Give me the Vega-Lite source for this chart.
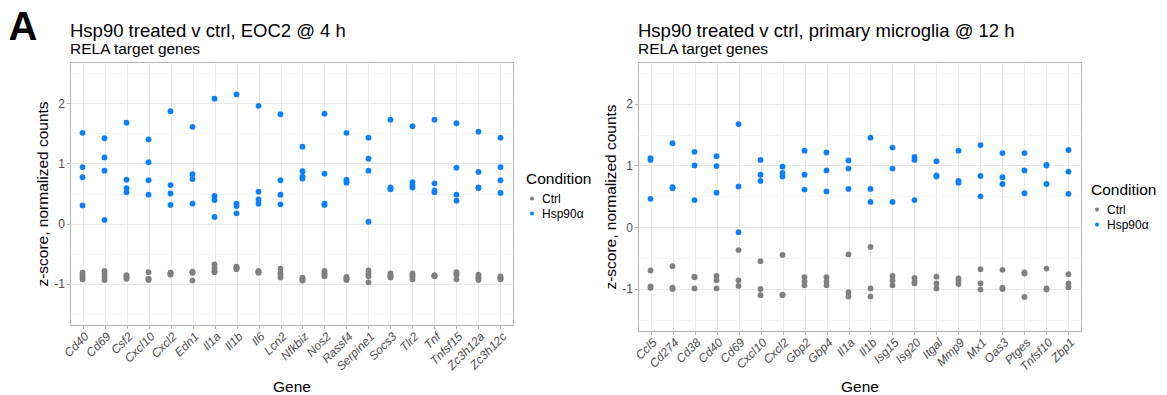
{
  "$schema": "https://vega.github.io/schema/vega-lite/v6.json",
  "background": "white",
  "padding": {"left": 8, "top": 8, "right": 4, "bottom": 2},
  "title": {"text": "A", "orient": "left", "anchor": "start", "angle": 0, "align": "right", "baseline": "top", "fontSize": 40, "fontWeight": "bold", "font": "Liberation Sans", "color": "black", "offset": -31, "dy": -54},
  "config": {
    "font": "Liberation Sans",
    "view": {"stroke": "#b3b3b3", "strokeWidth": 1},
    "title": {"anchor": "start", "frame": "group", "fontSize": 18.5, "fontWeight": "normal", "color": "black", "subtitleFontSize": 15.5, "subtitleColor": "black", "subtitlePadding": 1, "offset": 5},
    "axis": {"domain": false, "grid": true, "gridColor": "#ebebeb", "tickColor": "#b3b3b3", "tickSize": 3.5, "labelColor": "#4d4d4d", "labelFontSize": 12, "titleFontSize": 15.5, "titleFontWeight": "normal", "titleColor": "black"},
    "axisX": {"labelAngle": -45, "labelAlign": "right", "labelBaseline": "top", "labelFontStyle": "italic", "labelPadding": 2, "titlePadding": 7},
    "axisY": {"labelPadding": 2, "titlePadding": 3},
    "legend": {"titleFontSize": 15.5, "titleFontWeight": "normal", "titleColor": "black", "labelFontSize": 12, "labelColor": "black", "symbolSize": 16, "symbolType": "circle", "rowPadding": 3, "titlePadding": 5}
  },
  "data": {"values": [
    {"panel":"L","gene":"Cd40","condition":"Hsp90α","z":1.51},{"panel":"L","gene":"Cd40","condition":"Hsp90α","z":0.94},{"panel":"L","gene":"Cd40","condition":"Hsp90α","z":0.77},{"panel":"L","gene":"Cd40","condition":"Hsp90α","z":0.30},
    {"panel":"L","gene":"Cd69","condition":"Hsp90α","z":1.42},{"panel":"L","gene":"Cd69","condition":"Hsp90α","z":1.10},{"panel":"L","gene":"Cd69","condition":"Hsp90α","z":0.88},{"panel":"L","gene":"Cd69","condition":"Hsp90α","z":0.06},
    {"panel":"L","gene":"Csf2","condition":"Hsp90α","z":1.68},{"panel":"L","gene":"Csf2","condition":"Hsp90α","z":0.73},{"panel":"L","gene":"Csf2","condition":"Hsp90α","z":0.59},{"panel":"L","gene":"Csf2","condition":"Hsp90α","z":0.52},
    {"panel":"L","gene":"Cxcl10","condition":"Hsp90α","z":1.40},{"panel":"L","gene":"Cxcl10","condition":"Hsp90α","z":1.02},{"panel":"L","gene":"Cxcl10","condition":"Hsp90α","z":0.72},{"panel":"L","gene":"Cxcl10","condition":"Hsp90α","z":0.48},
    {"panel":"L","gene":"Cxcl2","condition":"Hsp90α","z":1.87},{"panel":"L","gene":"Cxcl2","condition":"Hsp90α","z":0.64},{"panel":"L","gene":"Cxcl2","condition":"Hsp90α","z":0.50},{"panel":"L","gene":"Cxcl2","condition":"Hsp90α","z":0.31},
    {"panel":"L","gene":"Edn1","condition":"Hsp90α","z":1.61},{"panel":"L","gene":"Edn1","condition":"Hsp90α","z":0.82},{"panel":"L","gene":"Edn1","condition":"Hsp90α","z":0.74},{"panel":"L","gene":"Edn1","condition":"Hsp90α","z":0.33},
    {"panel":"L","gene":"Il1a","condition":"Hsp90α","z":2.08},{"panel":"L","gene":"Il1a","condition":"Hsp90α","z":0.46},{"panel":"L","gene":"Il1a","condition":"Hsp90α","z":0.39},{"panel":"L","gene":"Il1a","condition":"Hsp90α","z":0.11},
    {"panel":"L","gene":"Il1b","condition":"Hsp90α","z":2.15},{"panel":"L","gene":"Il1b","condition":"Hsp90α","z":0.33},{"panel":"L","gene":"Il1b","condition":"Hsp90α","z":0.29},{"panel":"L","gene":"Il1b","condition":"Hsp90α","z":0.17},
    {"panel":"L","gene":"Il6","condition":"Hsp90α","z":1.96},{"panel":"L","gene":"Il6","condition":"Hsp90α","z":0.53},{"panel":"L","gene":"Il6","condition":"Hsp90α","z":0.40},{"panel":"L","gene":"Il6","condition":"Hsp90α","z":0.33},
    {"panel":"L","gene":"Lcn2","condition":"Hsp90α","z":1.82},{"panel":"L","gene":"Lcn2","condition":"Hsp90α","z":0.72},{"panel":"L","gene":"Lcn2","condition":"Hsp90α","z":0.48},{"panel":"L","gene":"Lcn2","condition":"Hsp90α","z":0.32},
    {"panel":"L","gene":"Nfkbiz","condition":"Hsp90α","z":1.28},{"panel":"L","gene":"Nfkbiz","condition":"Hsp90α","z":0.87},{"panel":"L","gene":"Nfkbiz","condition":"Hsp90α","z":0.78},{"panel":"L","gene":"Nfkbiz","condition":"Hsp90α","z":0.75},
    {"panel":"L","gene":"Nos2","condition":"Hsp90α","z":1.83},{"panel":"L","gene":"Nos2","condition":"Hsp90α","z":0.83},{"panel":"L","gene":"Nos2","condition":"Hsp90α","z":0.33},{"panel":"L","gene":"Nos2","condition":"Hsp90α","z":0.31},
    {"panel":"L","gene":"Rassf4","condition":"Hsp90α","z":1.51},{"panel":"L","gene":"Rassf4","condition":"Hsp90α","z":0.73},{"panel":"L","gene":"Rassf4","condition":"Hsp90α","z":0.70},{"panel":"L","gene":"Rassf4","condition":"Hsp90α","z":0.68},
    {"panel":"L","gene":"Serpine1","condition":"Hsp90α","z":1.43},{"panel":"L","gene":"Serpine1","condition":"Hsp90α","z":1.08},{"panel":"L","gene":"Serpine1","condition":"Hsp90α","z":0.88},{"panel":"L","gene":"Serpine1","condition":"Hsp90α","z":0.03},
    {"panel":"L","gene":"Socs3","condition":"Hsp90α","z":1.73},{"panel":"L","gene":"Socs3","condition":"Hsp90α","z":0.60},{"panel":"L","gene":"Socs3","condition":"Hsp90α","z":0.58},{"panel":"L","gene":"Socs3","condition":"Hsp90α","z":0.57},
    {"panel":"L","gene":"Tlr2","condition":"Hsp90α","z":1.62},{"panel":"L","gene":"Tlr2","condition":"Hsp90α","z":0.69},{"panel":"L","gene":"Tlr2","condition":"Hsp90α","z":0.64},{"panel":"L","gene":"Tlr2","condition":"Hsp90α","z":0.60},
    {"panel":"L","gene":"Tnf","condition":"Hsp90α","z":1.73},{"panel":"L","gene":"Tnf","condition":"Hsp90α","z":0.67},{"panel":"L","gene":"Tnf","condition":"Hsp90α","z":0.55},{"panel":"L","gene":"Tnf","condition":"Hsp90α","z":0.52},
    {"panel":"L","gene":"Tnfsf15","condition":"Hsp90α","z":1.67},{"panel":"L","gene":"Tnfsf15","condition":"Hsp90α","z":0.93},{"panel":"L","gene":"Tnfsf15","condition":"Hsp90α","z":0.48},{"panel":"L","gene":"Tnfsf15","condition":"Hsp90α","z":0.38},
    {"panel":"L","gene":"Zc3h12a","condition":"Hsp90α","z":1.53},{"panel":"L","gene":"Zc3h12a","condition":"Hsp90α","z":0.86},{"panel":"L","gene":"Zc3h12a","condition":"Hsp90α","z":0.60},{"panel":"L","gene":"Zc3h12a","condition":"Hsp90α","z":0.59},
    {"panel":"L","gene":"Zc3h12c","condition":"Hsp90α","z":1.43},{"panel":"L","gene":"Zc3h12c","condition":"Hsp90α","z":0.94},{"panel":"L","gene":"Zc3h12c","condition":"Hsp90α","z":0.72},{"panel":"L","gene":"Zc3h12c","condition":"Hsp90α","z":0.51},
    {"panel":"L","gene":"Cd40","condition":"Ctrl","z":-0.82},{"panel":"L","gene":"Cd40","condition":"Ctrl","z":-0.86},{"panel":"L","gene":"Cd40","condition":"Ctrl","z":-0.90},{"panel":"L","gene":"Cd40","condition":"Ctrl","z":-0.93},
    {"panel":"L","gene":"Cd69","condition":"Ctrl","z":-0.79},{"panel":"L","gene":"Cd69","condition":"Ctrl","z":-0.84},{"panel":"L","gene":"Cd69","condition":"Ctrl","z":-0.89},{"panel":"L","gene":"Cd69","condition":"Ctrl","z":-0.94},
    {"panel":"L","gene":"Csf2","condition":"Ctrl","z":-0.86},{"panel":"L","gene":"Csf2","condition":"Ctrl","z":-0.88},{"panel":"L","gene":"Csf2","condition":"Ctrl","z":-0.90},{"panel":"L","gene":"Csf2","condition":"Ctrl","z":-0.92},
    {"panel":"L","gene":"Cxcl10","condition":"Ctrl","z":-0.81},{"panel":"L","gene":"Cxcl10","condition":"Ctrl","z":-0.92},{"panel":"L","gene":"Cxcl10","condition":"Ctrl","z":-0.93},{"panel":"L","gene":"Cxcl10","condition":"Ctrl","z":-0.94},
    {"panel":"L","gene":"Cxcl2","condition":"Ctrl","z":-0.82},{"panel":"L","gene":"Cxcl2","condition":"Ctrl","z":-0.83},{"panel":"L","gene":"Cxcl2","condition":"Ctrl","z":-0.84},{"panel":"L","gene":"Cxcl2","condition":"Ctrl","z":-0.85},
    {"panel":"L","gene":"Edn1","condition":"Ctrl","z":-0.80},{"panel":"L","gene":"Edn1","condition":"Ctrl","z":-0.81},{"panel":"L","gene":"Edn1","condition":"Ctrl","z":-0.82},{"panel":"L","gene":"Edn1","condition":"Ctrl","z":-0.95},
    {"panel":"L","gene":"Il1a","condition":"Ctrl","z":-0.68},{"panel":"L","gene":"Il1a","condition":"Ctrl","z":-0.74},{"panel":"L","gene":"Il1a","condition":"Ctrl","z":-0.79},{"panel":"L","gene":"Il1a","condition":"Ctrl","z":-0.81},
    {"panel":"L","gene":"Il1b","condition":"Ctrl","z":-0.72},{"panel":"L","gene":"Il1b","condition":"Ctrl","z":-0.73},{"panel":"L","gene":"Il1b","condition":"Ctrl","z":-0.74},{"panel":"L","gene":"Il1b","condition":"Ctrl","z":-0.76},
    {"panel":"L","gene":"Il6","condition":"Ctrl","z":-0.79},{"panel":"L","gene":"Il6","condition":"Ctrl","z":-0.80},{"panel":"L","gene":"Il6","condition":"Ctrl","z":-0.81},{"panel":"L","gene":"Il6","condition":"Ctrl","z":-0.82},
    {"panel":"L","gene":"Lcn2","condition":"Ctrl","z":-0.75},{"panel":"L","gene":"Lcn2","condition":"Ctrl","z":-0.82},{"panel":"L","gene":"Lcn2","condition":"Ctrl","z":-0.85},{"panel":"L","gene":"Lcn2","condition":"Ctrl","z":-0.90},
    {"panel":"L","gene":"Nfkbiz","condition":"Ctrl","z":-0.90},{"panel":"L","gene":"Nfkbiz","condition":"Ctrl","z":-0.92},{"panel":"L","gene":"Nfkbiz","condition":"Ctrl","z":-0.94},{"panel":"L","gene":"Nfkbiz","condition":"Ctrl","z":-0.95},
    {"panel":"L","gene":"Nos2","condition":"Ctrl","z":-0.79},{"panel":"L","gene":"Nos2","condition":"Ctrl","z":-0.83},{"panel":"L","gene":"Nos2","condition":"Ctrl","z":-0.85},{"panel":"L","gene":"Nos2","condition":"Ctrl","z":-0.88},
    {"panel":"L","gene":"Rassf4","condition":"Ctrl","z":-0.89},{"panel":"L","gene":"Rassf4","condition":"Ctrl","z":-0.91},{"panel":"L","gene":"Rassf4","condition":"Ctrl","z":-0.92},{"panel":"L","gene":"Rassf4","condition":"Ctrl","z":-0.94},
    {"panel":"L","gene":"Serpine1","condition":"Ctrl","z":-0.78},{"panel":"L","gene":"Serpine1","condition":"Ctrl","z":-0.83},{"panel":"L","gene":"Serpine1","condition":"Ctrl","z":-0.88},{"panel":"L","gene":"Serpine1","condition":"Ctrl","z":-0.98},
    {"panel":"L","gene":"Socs3","condition":"Ctrl","z":-0.83},{"panel":"L","gene":"Socs3","condition":"Ctrl","z":-0.86},{"panel":"L","gene":"Socs3","condition":"Ctrl","z":-0.88},{"panel":"L","gene":"Socs3","condition":"Ctrl","z":-0.90},
    {"panel":"L","gene":"Tlr2","condition":"Ctrl","z":-0.83},{"panel":"L","gene":"Tlr2","condition":"Ctrl","z":-0.86},{"panel":"L","gene":"Tlr2","condition":"Ctrl","z":-0.89},{"panel":"L","gene":"Tlr2","condition":"Ctrl","z":-0.93},
    {"panel":"L","gene":"Tnf","condition":"Ctrl","z":-0.86},{"panel":"L","gene":"Tnf","condition":"Ctrl","z":-0.87},{"panel":"L","gene":"Tnf","condition":"Ctrl","z":-0.87},{"panel":"L","gene":"Tnf","condition":"Ctrl","z":-0.88},
    {"panel":"L","gene":"Tnfsf15","condition":"Ctrl","z":-0.81},{"panel":"L","gene":"Tnfsf15","condition":"Ctrl","z":-0.84},{"panel":"L","gene":"Tnfsf15","condition":"Ctrl","z":-0.86},{"panel":"L","gene":"Tnfsf15","condition":"Ctrl","z":-0.93},
    {"panel":"L","gene":"Zc3h12a","condition":"Ctrl","z":-0.85},{"panel":"L","gene":"Zc3h12a","condition":"Ctrl","z":-0.89},{"panel":"L","gene":"Zc3h12a","condition":"Ctrl","z":-0.91},{"panel":"L","gene":"Zc3h12a","condition":"Ctrl","z":-0.94},
    {"panel":"L","gene":"Zc3h12c","condition":"Ctrl","z":-0.88},{"panel":"L","gene":"Zc3h12c","condition":"Ctrl","z":-0.90},{"panel":"L","gene":"Zc3h12c","condition":"Ctrl","z":-0.91},{"panel":"L","gene":"Zc3h12c","condition":"Ctrl","z":-0.93},
    {"panel":"R","gene":"Ccl5","condition":"Hsp90α","z":1.12},{"panel":"R","gene":"Ccl5","condition":"Hsp90α","z":1.09},{"panel":"R","gene":"Ccl5","condition":"Hsp90α","z":0.46},
    {"panel":"R","gene":"Cd274","condition":"Hsp90α","z":1.36},{"panel":"R","gene":"Cd274","condition":"Hsp90α","z":0.65},{"panel":"R","gene":"Cd274","condition":"Hsp90α","z":0.63},
    {"panel":"R","gene":"Cd38","condition":"Hsp90α","z":1.22},{"panel":"R","gene":"Cd38","condition":"Hsp90α","z":1.00},{"panel":"R","gene":"Cd38","condition":"Hsp90α","z":0.44},
    {"panel":"R","gene":"Cd40","condition":"Hsp90α","z":1.15},{"panel":"R","gene":"Cd40","condition":"Hsp90α","z":0.99},{"panel":"R","gene":"Cd40","condition":"Hsp90α","z":0.56},
    {"panel":"R","gene":"Cd69","condition":"Hsp90α","z":1.67},{"panel":"R","gene":"Cd69","condition":"Hsp90α","z":0.66},{"panel":"R","gene":"Cd69","condition":"Hsp90α","z":-0.08},
    {"panel":"R","gene":"Cxcl10","condition":"Hsp90α","z":1.09},{"panel":"R","gene":"Cxcl10","condition":"Hsp90α","z":0.85},{"panel":"R","gene":"Cxcl10","condition":"Hsp90α","z":0.75},
    {"panel":"R","gene":"Cxcl2","condition":"Hsp90α","z":0.98},{"panel":"R","gene":"Cxcl2","condition":"Hsp90α","z":0.88},{"panel":"R","gene":"Cxcl2","condition":"Hsp90α","z":0.82},
    {"panel":"R","gene":"Gbp2","condition":"Hsp90α","z":1.24},{"panel":"R","gene":"Gbp2","condition":"Hsp90α","z":0.85},{"panel":"R","gene":"Gbp2","condition":"Hsp90α","z":0.61},
    {"panel":"R","gene":"Gbp4","condition":"Hsp90α","z":1.21},{"panel":"R","gene":"Gbp4","condition":"Hsp90α","z":0.92},{"panel":"R","gene":"Gbp4","condition":"Hsp90α","z":0.58},
    {"panel":"R","gene":"Il1a","condition":"Hsp90α","z":1.08},{"panel":"R","gene":"Il1a","condition":"Hsp90α","z":0.95},{"panel":"R","gene":"Il1a","condition":"Hsp90α","z":0.62},
    {"panel":"R","gene":"Il1b","condition":"Hsp90α","z":1.45},{"panel":"R","gene":"Il1b","condition":"Hsp90α","z":0.62},{"panel":"R","gene":"Il1b","condition":"Hsp90α","z":0.41},
    {"panel":"R","gene":"Isg15","condition":"Hsp90α","z":1.29},{"panel":"R","gene":"Isg15","condition":"Hsp90α","z":0.95},{"panel":"R","gene":"Isg15","condition":"Hsp90α","z":0.41},
    {"panel":"R","gene":"Isg20","condition":"Hsp90α","z":1.14},{"panel":"R","gene":"Isg20","condition":"Hsp90α","z":1.09},{"panel":"R","gene":"Isg20","condition":"Hsp90α","z":0.44},
    {"panel":"R","gene":"Itgal","condition":"Hsp90α","z":1.07},{"panel":"R","gene":"Itgal","condition":"Hsp90α","z":0.84},{"panel":"R","gene":"Itgal","condition":"Hsp90α","z":0.82},
    {"panel":"R","gene":"Mmp9","condition":"Hsp90α","z":1.24},{"panel":"R","gene":"Mmp9","condition":"Hsp90α","z":0.75},{"panel":"R","gene":"Mmp9","condition":"Hsp90α","z":0.72},
    {"panel":"R","gene":"Mx1","condition":"Hsp90α","z":1.33},{"panel":"R","gene":"Mx1","condition":"Hsp90α","z":0.83},{"panel":"R","gene":"Mx1","condition":"Hsp90α","z":0.50},
    {"panel":"R","gene":"Oas3","condition":"Hsp90α","z":1.20},{"panel":"R","gene":"Oas3","condition":"Hsp90α","z":0.81},{"panel":"R","gene":"Oas3","condition":"Hsp90α","z":0.70},
    {"panel":"R","gene":"Ptges","condition":"Hsp90α","z":1.20},{"panel":"R","gene":"Ptges","condition":"Hsp90α","z":0.92},{"panel":"R","gene":"Ptges","condition":"Hsp90α","z":0.55},
    {"panel":"R","gene":"Tnfsf10","condition":"Hsp90α","z":1.01},{"panel":"R","gene":"Tnfsf10","condition":"Hsp90α","z":1.00},{"panel":"R","gene":"Tnfsf10","condition":"Hsp90α","z":0.70},
    {"panel":"R","gene":"Zbp1","condition":"Hsp90α","z":1.25},{"panel":"R","gene":"Zbp1","condition":"Hsp90α","z":0.90},{"panel":"R","gene":"Zbp1","condition":"Hsp90α","z":0.54},
    {"panel":"R","gene":"Ccl5","condition":"Ctrl","z":-0.70},{"panel":"R","gene":"Ccl5","condition":"Ctrl","z":-0.96},{"panel":"R","gene":"Ccl5","condition":"Ctrl","z":-0.98},
    {"panel":"R","gene":"Cd274","condition":"Ctrl","z":-0.63},{"panel":"R","gene":"Cd274","condition":"Ctrl","z":-0.98},{"panel":"R","gene":"Cd274","condition":"Ctrl","z":-1.00},
    {"panel":"R","gene":"Cd38","condition":"Ctrl","z":-0.80},{"panel":"R","gene":"Cd38","condition":"Ctrl","z":-0.81},{"panel":"R","gene":"Cd38","condition":"Ctrl","z":-0.99},
    {"panel":"R","gene":"Cd40","condition":"Ctrl","z":-0.79},{"panel":"R","gene":"Cd40","condition":"Ctrl","z":-0.86},{"panel":"R","gene":"Cd40","condition":"Ctrl","z":-0.99},
    {"panel":"R","gene":"Cd69","condition":"Ctrl","z":-0.37},{"panel":"R","gene":"Cd69","condition":"Ctrl","z":-0.86},{"panel":"R","gene":"Cd69","condition":"Ctrl","z":-0.95},
    {"panel":"R","gene":"Cxcl10","condition":"Ctrl","z":-0.55},{"panel":"R","gene":"Cxcl10","condition":"Ctrl","z":-1.00},{"panel":"R","gene":"Cxcl10","condition":"Ctrl","z":-1.10},
    {"panel":"R","gene":"Cxcl2","condition":"Ctrl","z":-0.45},{"panel":"R","gene":"Cxcl2","condition":"Ctrl","z":-1.09},{"panel":"R","gene":"Cxcl2","condition":"Ctrl","z":-1.10},
    {"panel":"R","gene":"Gbp2","condition":"Ctrl","z":-0.81},{"panel":"R","gene":"Gbp2","condition":"Ctrl","z":-0.88},{"panel":"R","gene":"Gbp2","condition":"Ctrl","z":-0.94},
    {"panel":"R","gene":"Gbp4","condition":"Ctrl","z":-0.81},{"panel":"R","gene":"Gbp4","condition":"Ctrl","z":-0.88},{"panel":"R","gene":"Gbp4","condition":"Ctrl","z":-0.94},
    {"panel":"R","gene":"Il1a","condition":"Ctrl","z":-0.44},{"panel":"R","gene":"Il1a","condition":"Ctrl","z":-1.05},{"panel":"R","gene":"Il1a","condition":"Ctrl","z":-1.12},
    {"panel":"R","gene":"Il1b","condition":"Ctrl","z":-0.32},{"panel":"R","gene":"Il1b","condition":"Ctrl","z":-0.99},{"panel":"R","gene":"Il1b","condition":"Ctrl","z":-1.12},
    {"panel":"R","gene":"Isg15","condition":"Ctrl","z":-0.79},{"panel":"R","gene":"Isg15","condition":"Ctrl","z":-0.86},{"panel":"R","gene":"Isg15","condition":"Ctrl","z":-0.94},
    {"panel":"R","gene":"Isg20","condition":"Ctrl","z":-0.82},{"panel":"R","gene":"Isg20","condition":"Ctrl","z":-0.88},{"panel":"R","gene":"Isg20","condition":"Ctrl","z":-0.91},
    {"panel":"R","gene":"Itgal","condition":"Ctrl","z":-0.80},{"panel":"R","gene":"Itgal","condition":"Ctrl","z":-0.91},{"panel":"R","gene":"Itgal","condition":"Ctrl","z":-0.99},
    {"panel":"R","gene":"Mmp9","condition":"Ctrl","z":-0.83},{"panel":"R","gene":"Mmp9","condition":"Ctrl","z":-0.87},{"panel":"R","gene":"Mmp9","condition":"Ctrl","z":-0.92},
    {"panel":"R","gene":"Mx1","condition":"Ctrl","z":-0.68},{"panel":"R","gene":"Mx1","condition":"Ctrl","z":-0.91},{"panel":"R","gene":"Mx1","condition":"Ctrl","z":-1.01},
    {"panel":"R","gene":"Oas3","condition":"Ctrl","z":-0.69},{"panel":"R","gene":"Oas3","condition":"Ctrl","z":-0.98},{"panel":"R","gene":"Oas3","condition":"Ctrl","z":-1.00},
    {"panel":"R","gene":"Ptges","condition":"Ctrl","z":-0.73},{"panel":"R","gene":"Ptges","condition":"Ctrl","z":-0.75},{"panel":"R","gene":"Ptges","condition":"Ctrl","z":-1.13},
    {"panel":"R","gene":"Tnfsf10","condition":"Ctrl","z":-0.67},{"panel":"R","gene":"Tnfsf10","condition":"Ctrl","z":-0.99},{"panel":"R","gene":"Tnfsf10","condition":"Ctrl","z":-1.01},
    {"panel":"R","gene":"Zbp1","condition":"Ctrl","z":-0.76},{"panel":"R","gene":"Zbp1","condition":"Ctrl","z":-0.91},{"panel":"R","gene":"Zbp1","condition":"Ctrl","z":-0.97}
  ]},
  "spacing": 10,
  "resolve": {"scale": {"x": "independent", "y": "independent", "color": "independent"}, "legend": {"color": "independent"}},
  "hconcat": [
    {
      "width": 443, "height": 263,
      "title": {"text": "Hsp90 treated v ctrl, EOC2 @ 4 h", "subtitle": "RELA target genes"},
      "transform": [{"filter": "datum.panel === 'L'"}],
      "mark": {"type": "circle", "size": 34, "opacity": 1},
      "encoding": {
        "x": {"field": "gene", "type": "nominal", "title": "Gene", "scale": {"type": "point", "padding": 0.57}},
        "y": {"field": "z", "type": "quantitative", "title": "z-score, normalized counts", "scale": {"domain": [-1.69, 2.69], "nice": false, "zero": false},
          "axis": {"values": [-1.5, -1, -0.5, 0, 0.5, 1, 1.5, 2, 2.5], "labelExpr": "datum.value % 1 === 0 ? '' + datum.value : ''",
            "gridColor": {"condition": {"test": "datum.value % 1 === 0", "value": "#e8e8e8"}, "value": "#f4f4f4"},
            "tickOpacity": {"condition": {"test": "datum.value % 1 === 0", "value": 1}, "value": 0}}},
        "color": {"field": "condition", "type": "nominal", "title": "Condition", "scale": {"domain": ["Ctrl", "Hsp90α"], "range": ["#808080", "#0a80ff"]},
          "legend": {"orient": "none", "legendX": 456, "legendY": 110}}
      }
    },
    {
      "width": 443, "height": 269,
      "title": {"text": "Hsp90 treated v ctrl, primary microglia @ 12 h", "subtitle": "RELA target genes"},
      "transform": [{"filter": "datum.panel === 'R'"}],
      "mark": {"type": "circle", "size": 34, "opacity": 1},
      "encoding": {
        "x": {"field": "gene", "type": "nominal", "title": "Gene", "scale": {"type": "point", "padding": 0.57}},
        "y": {"field": "z", "type": "quantitative", "title": "z-score, normalized counts", "scale": {"domain": [-1.68, 2.675], "nice": false, "zero": false},
          "axis": {"values": [-1.5, -1, -0.5, 0, 0.5, 1, 1.5, 2, 2.5], "labelExpr": "datum.value % 1 === 0 ? '' + datum.value : ''",
            "gridColor": {"condition": {"test": "datum.value % 1 === 0", "value": "#e8e8e8"}, "value": "#f4f4f4"},
            "tickOpacity": {"condition": {"test": "datum.value % 1 === 0", "value": 1}, "value": 0}}},
        "color": {"field": "condition", "type": "nominal", "title": "Condition", "scale": {"domain": ["Ctrl", "Hsp90α"], "range": ["#808080", "#0a80ff"]},
          "legend": {"orient": "none", "legendX": 453, "legendY": 121}}
      }
    }
  ]
}
